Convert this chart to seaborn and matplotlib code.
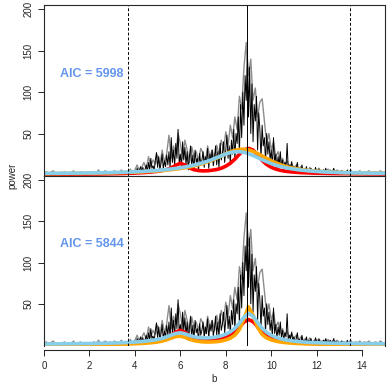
import numpy as np
import pandas as pd
import matplotlib
matplotlib.use('Agg')
import matplotlib.pyplot as plt
import seaborn as sns

# espectro observado (preto), passo 0.05 de 3.5 a 13.5
b_preto = np.round(np.arange(3.5, 13.5001, 0.05), 2)
pot_preto = [
    1, 2, 1, 3, 1, 2, 4, 2, 1, 3,
    5, 2, 8, 3, 6, 10, 4, 9, 3, 7,
    12, 4, 15, 6, 20, 8, 11, 5, 18, 27,
    9, 22, 6, 14, 25, 7, 17, 10, 24, 12,
    28, 8, 45, 15, 30, 11, 38, 20, 55, 14,
    25, 9, 40, 18, 33, 12, 28, 6, 22, 35,
    10, 24, 7, 30, 15, 20, 5, 26, 12, 18,
    28, 9, 22, 14, 32, 8, 25, 17, 30, 11,
    20, 35, 12, 28, 9, 38, 18, 25, 40, 15,
    30, 48, 20, 35, 14, 42, 25, 55, 18, 50,
    38, 70, 25, 85, 45, 100, 60, 120, 90, 150,
    70, 130, 50, 110, 40, 85, 65, 95, 30, 75,
    55, 20, 60, 35, 45, 15, 50, 25, 40, 18,
    30, 10, 45, 14, 25, 8, 22, 12, 28, 9,
    18, 6, 15, 10, 38, 5, 12, 8, 16, 4,
    10, 3, 8, 15, 4, 7, 2, 12, 5, 6,
    3, 10, 2, 6, 4, 8, 2, 5, 3, 9,
    4, 2, 7, 3, 5, 2, 6, 3, 8, 2,
    5, 3, 6, 2, 4, 8, 3, 5, 2, 4,
    3, 2, 5, 2, 4, 3, 2, 6, 2, 3, 2,
]

# espectro cinza (transparente), passo 0.1 de 0 a 15
b_cinza = np.round(np.arange(0, 15.0001, 0.1), 2)
pot_cinza = [
    2, 4, 1, 3, 5, 2, 1, 3, 2, 4,
    1, 3, 2, 5, 1, 2, 4, 1, 3, 2,
    3, 1, 4, 2, 6, 1, 3, 5, 2, 4,
    2, 5, 3, 1, 6, 2, 4, 3, 7, 2,
    6, 12, 4, 9, 15, 7, 22, 10, 18, 13,
    24, 11, 30, 15, 26, 48, 20, 35, 25, 50,
    38, 20, 42, 30, 15, 34, 22, 28, 18, 32,
    26, 14, 35, 22, 30, 18, 36, 25, 42, 30,
    52, 35, 60, 45, 70, 55, 95, 80, 130, 160,
    120, 140, 90, 105, 70, 88, 92, 65, 38, 50,
    30, 40, 22, 28, 15, 20, 12, 17, 9, 14,
    8, 12, 6, 10, 5, 8, 4, 9, 3, 6,
    5, 8, 3, 6, 4, 7, 3, 5, 2, 6,
    3, 5, 2, 4, 3, 6, 2, 4, 3, 5,
    2, 4, 3, 5, 2, 3, 4, 2, 5, 3, 2,
]

# modelos ajustados, passo 0.2 de 0 a 15
b_mod = np.round(np.arange(0, 15.0001, 0.2), 2)

sup_vermelho = [
    0.8, 0.8, 0.8, 0.9, 0.9, 0.9, 0.9, 1.0, 1.0, 1.0,
    1.0, 1.1, 1.1, 1.2, 1.3, 1.4, 1.5, 1.6, 1.8, 2.0,
    2.2, 2.5, 2.8, 3.2, 3.7, 4.3, 5.2, 6.5, 8.5, 11.5,
    14, 12, 8.5, 6.2, 5.2, 4.8, 5.0, 5.6, 6.5, 8.0,
    10.5, 14, 19, 25, 30, 32, 30, 24, 17.5, 12.5,
    9.2, 7.0, 5.5, 4.5, 3.8, 3.3, 2.9, 2.6, 2.4, 2.2,
    2.0, 1.9, 1.8, 1.7, 1.6, 1.5, 1.5, 1.4, 1.4, 1.3,
    1.3, 1.2, 1.2, 1.2, 1.1, 1.1,
]
sup_laranja = [
    1.5, 1.5, 1.6, 1.6, 1.7, 1.7, 1.8, 1.8, 1.9, 2.0,
    2.0, 2.1, 2.2, 2.3, 2.4, 2.5, 2.6, 2.8, 2.9, 3.1,
    3.3, 3.5, 3.8, 4.1, 4.4, 4.8, 5.2, 5.7, 6.3, 7.0,
    7.7, 8.6, 9.6, 10.8, 12.2, 13.8, 15.7, 17.8, 20.2, 22.8,
    25.4, 27.8, 29.6, 30.8, 31.0, 30.2, 28.4, 25.8, 22.8, 19.8,
    17.0, 14.5, 12.4, 10.6, 9.1, 7.9, 6.9, 6.1, 5.4, 4.9,
    4.4, 4.0, 3.7, 3.4, 3.2, 3.0, 2.8, 2.6, 2.5, 2.4,
    2.3, 2.2, 2.1, 2.0, 2.0, 1.9,
]
sup_azul = [
    1.8, 1.8, 1.9, 1.9, 2.0, 2.0, 2.1, 2.1, 2.2, 2.3,
    2.3, 2.4, 2.5, 2.6, 2.7, 2.8, 3.0, 3.1, 3.3, 3.5,
    3.7, 4.0, 4.3, 4.6, 5.0, 5.4, 5.9, 6.5, 7.1, 7.8,
    8.6, 9.5, 10.6, 11.8, 13.2, 14.8, 16.6, 18.6, 20.8, 23.0,
    25.2, 26.9, 27.9, 28.0, 27.2, 25.6, 23.4, 20.9, 18.3, 15.9,
    13.7, 11.8, 10.2, 8.9, 7.8, 6.9, 6.1, 5.5, 5.0, 4.5,
    4.1, 3.8, 3.5, 3.3, 3.1, 2.9, 2.7, 2.6, 2.5, 2.4,
    2.3, 2.2, 2.1, 2.0, 2.0, 1.9,
]

inf_vermelho = [
    1.0, 1.0, 1.0, 1.1, 1.1, 1.1, 1.2, 1.2, 1.2, 1.3,
    1.3, 1.4, 1.4, 1.5, 1.6, 1.7, 1.8, 1.9, 2.1, 2.3,
    2.6, 2.9, 3.3, 3.8, 4.5, 5.4, 6.8, 8.8, 12.0, 16.0,
    18.0, 15.5, 11.5, 8.8, 7.4, 6.8, 6.7, 7.0, 7.7, 8.8,
    10.5, 13.0, 16.8, 22.0, 28.0, 31.0, 28.5, 22.5, 16.8, 12.5,
    9.5, 7.4, 5.9, 4.8, 4.0, 3.4, 3.0, 2.6, 2.3, 2.1,
    1.9, 1.8, 1.7, 1.6, 1.5, 1.4, 1.4, 1.3, 1.3, 1.2,
    1.2, 1.2, 1.1, 1.1, 1.1, 1.0,
]
inf_laranja = [
    0.6, 0.6, 0.6, 0.7, 0.7, 0.7, 0.7, 0.8, 0.8, 0.8,
    0.9, 0.9, 1.0, 1.0, 1.1, 1.1, 1.2, 1.3, 1.4, 1.6,
    1.8, 2.0, 2.3, 2.7, 3.2, 3.9, 5.0, 6.5, 8.7, 10.5,
    11.0, 9.5, 7.2, 5.6, 4.6, 4.0, 3.8, 3.9, 4.3, 5.0,
    6.3, 8.5, 12.2, 19.0, 32.0, 46.5, 36.0, 21.5, 13.0, 8.8,
    6.4, 4.9, 3.9, 3.2, 2.7, 2.3, 2.0, 1.8, 1.6, 1.5,
    1.4, 1.3, 1.2, 1.1, 1.0, 1.0, 0.9, 0.9, 0.9, 0.8,
    0.8, 0.8, 0.8, 0.7, 0.7, 0.7,
]
inf_azul = [
    1.5, 1.5, 1.6, 1.6, 1.7, 1.7, 1.8, 1.8, 1.9, 2.0,
    2.0, 2.1, 2.2, 2.3, 2.4, 2.6, 2.7, 2.9, 3.2, 3.5,
    3.8, 4.2, 4.7, 5.3, 6.0, 7.0, 8.3, 10.0, 12.2, 14.2,
    15.0, 13.8, 11.8, 10.2, 9.2, 8.8, 8.8, 9.2, 10.0, 11.3,
    13.3, 16.2, 20.4, 26.5, 34.0, 38.5, 35.0, 27.5, 20.5, 15.5,
    12.0, 9.6, 7.9, 6.6, 5.6, 4.9, 4.3, 3.9, 3.5, 3.2,
    3.0, 2.8, 2.6, 2.5, 2.4, 2.3, 2.2, 2.1, 2.0, 2.0,
    1.9, 1.9, 1.8, 1.8, 1.7, 1.7,
]

linhas_tracejadas = [3.69, 13.45]
linha_solida = 8.93
aic = ['AIC = 5998', 'AIC = 5844']

sns.set_style('ticks')
plt.rcParams['font.family'] = ['Liberation Sans', 'DejaVu Sans']

fig = plt.figure(figsize=(3.9, 3.9), dpi=100)
ax_sup = fig.add_axes([0.1128, 0.5495, 0.874, 0.437])
ax_inf = fig.add_axes([0.1128, 0.1128, 0.874, 0.4367])

modelos = [
    (ax_sup, sup_vermelho, sup_laranja, sup_azul, aic[0]),
    (ax_inf, inf_vermelho, inf_laranja, inf_azul, aic[1]),
]

for ax, verm, lar, azul, txt in modelos:
    sns.lineplot(x=b_preto, y=pot_preto, ax=ax, color='black', lw=0.7, estimator=None)
    sns.lineplot(x=b_cinza, y=pot_cinza, ax=ax, color='black', lw=1.0, alpha=0.45, estimator=None)
    sns.lineplot(x=b_mod, y=verm, ax=ax, color='red', lw=2.6, estimator=None)
    sns.lineplot(x=b_mod, y=lar, ax=ax, color='orange', lw=2.6, estimator=None)
    sns.lineplot(x=b_mod, y=azul, ax=ax, color='skyblue', lw=2.6, estimator=None)
    for xv in linhas_tracejadas:
        ax.axvline(xv, color='black', lw=0.7, ls=(0, (3, 2)))
    ax.axvline(linha_solida, color='black', lw=0.7)
    ax.text(2.1, 122, txt, color='cornflowerblue', fontsize=9, fontweight='bold',
            ha='center', va='center')
    ax.set_xlim(0, 15)
    ax.set_ylim(-1, 205)
    ax.set_yticks([50, 100, 150, 200])
    ax.tick_params(axis='y', labelsize=7, length=4, width=0.7, labelrotation=90)
    for lbl in ax.get_yticklabels():
        lbl.set_va('center')
    ax.set_xlabel('')
    ax.set_ylabel('')
    for s in ax.spines.values():
        s.set_linewidth(0.8)
        s.set_visible(True)

ax_sup.set_xticks([])
ax_inf.set_xticks(range(0, 15, 2))
ax_inf.tick_params(axis='x', labelsize=7, length=4, width=0.7)
# eixo x no estilo do R: deslocado e só entre o primeiro e o último tick
ax_inf.spines['bottom'].set_position(('outward', 3))
ax_inf.spines['bottom'].set_bounds(0, 14)
ax_inf.spines['left'].set_bounds(-1, 205)

fig.text(12 / 390, 1 - 176 / 390, 'power', rotation=90, fontsize=7, ha='center', va='center')
fig.text(214 / 390, 1 - 379 / 390, 'b', fontsize=7, ha='center', va='center')

plt.savefig('out.png', dpi=100)
